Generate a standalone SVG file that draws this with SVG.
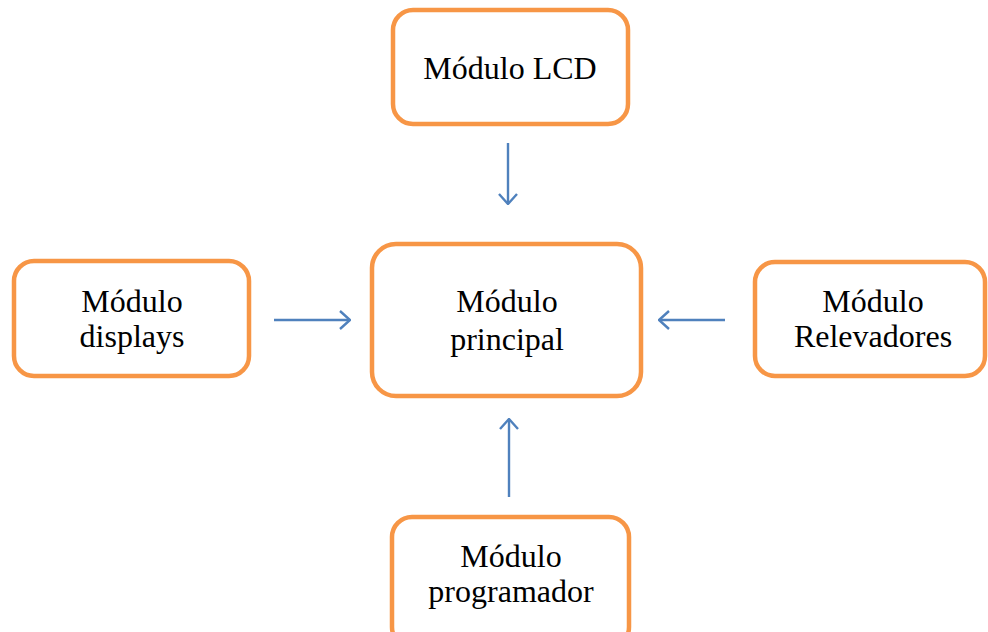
<svg xmlns="http://www.w3.org/2000/svg" width="988" height="632" viewBox="0 0 988 632">
  <defs>
    <style>
      .box { fill: #ffffff; stroke: #F79646; stroke-width: 4.5; }
      .lbl { font-family: "Liberation Serif", "Times New Roman", serif; font-size: 32px; fill: #000000; text-anchor: middle; }
      .link { stroke: #4F81BD; stroke-width: 2.4; fill: none; }
    </style>
    <marker id="open-arrow" viewBox="0 0 12 20" refX="11" refY="10" markerWidth="12" markerHeight="20" markerUnits="userSpaceOnUse" orient="auto">
      <path d="M1 1 L11 10 L1 19" fill="none" stroke="#4F81BD" stroke-width="2.4"/>
    </marker>
  </defs>
  <rect width="988" height="632" fill="#ffffff"/>

  <g id="connectors">
    <line class="link" x1="508" y1="143" x2="508" y2="204" marker-end="url(#open-arrow)"/>
    <line class="link" x1="274" y1="320" x2="350" y2="320" marker-end="url(#open-arrow)"/>
    <line class="link" x1="725" y1="320" x2="659" y2="320" marker-end="url(#open-arrow)"/>
    <line class="link" x1="509" y1="497" x2="509" y2="419" marker-end="url(#open-arrow)"/>
  </g>

  <g id="node-lcd">
    <rect class="box" x="393" y="10" width="235" height="114" rx="20"/>
    <text class="lbl" x="510" y="79">Módulo LCD</text>
  </g>

  <g id="node-displays">
    <rect class="box" x="14" y="261" width="235" height="115" rx="20"/>
    <text class="lbl" x="132" y="312">Módulo</text>
    <text class="lbl" x="132" y="347">displays</text>
  </g>

  <g id="node-principal">
    <rect class="box" x="372" y="244" width="269" height="152" rx="24"/>
    <text class="lbl" x="507" y="312">Módulo</text>
    <text class="lbl" x="507" y="350">principal</text>
  </g>

  <g id="node-relevadores">
    <rect class="box" x="755" y="262" width="230" height="114" rx="20"/>
    <text class="lbl" x="873" y="312">Módulo</text>
    <text class="lbl" x="873" y="347">Relevadores</text>
  </g>

  <g id="node-programador">
    <rect class="box" x="392" y="517" width="237" height="130" rx="20"/>
    <text class="lbl" x="511" y="567">Módulo</text>
    <text class="lbl" x="511" y="602">programador</text>
  </g>
</svg>
